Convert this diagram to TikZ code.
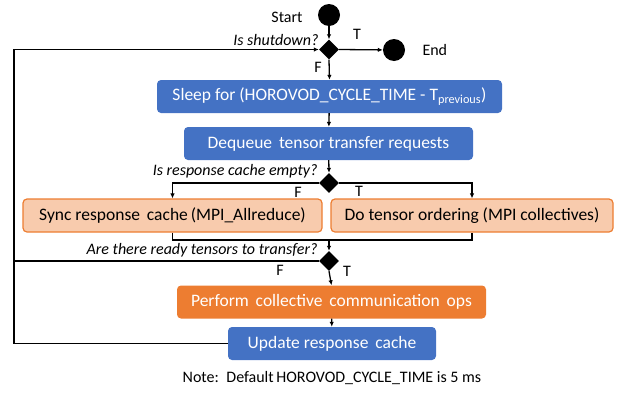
\documentclass[tikz,border=0pt]{standalone}
\usepackage{fontspec}
\setmainfont{Carlito}
\usetikzlibrary{arrows.meta,shapes.geometric}
\definecolor{stepblue}{HTML}{4472C4}
\definecolor{steporange}{HTML}{ED7D31}
\definecolor{steppeach}{HTML}{F8CBAD}
\tikzset{>={Latex[length=5pt,width=4.5pt]}}
\tikzset{flow/.style={line width=1.3pt}}

\begin{document}
\begin{tikzpicture}[x=1pt,y=-1pt]

\tikzstyle{bluebox}=[rectangle,rounded corners=4pt,fill=stepblue,text=white,
                     minimum height=33pt,inner sep=0pt,font=\fontsize{17.5}{20}\selectfont]
\tikzstyle{orangebox}=[bluebox,fill=steporange]
\tikzstyle{peachbox}=[bluebox,fill=steppeach,draw=steporange,line width=1.2pt,text=black]
\tikzstyle{decision}=[diamond,fill=black,minimum size=20pt,inner sep=0pt]
\tikzstyle{terminal}=[circle,fill=black,minimum size=22pt,inner sep=0pt]
\tikzstyle{lab}=[font=\fontsize{16}{18}\selectfont]
\tikzstyle{question}=[lab,font=\fontsize{16}{18}\selectfont\itshape,anchor=east]

  \useasboundingbox (0,0) rectangle (621,394);

  % start / end
  \node[terminal] (start) at (329,15) {};
  \node[lab] (startlab) at (287,17) {Start};
  \node[decision] (dec1) at (329,49.5) {};
  \node[question] (q1) at (322,40) {Is shutdown?};
  \node[terminal] (end) at (394,50) {};
  \node[lab,anchor=west] (endlab) at (419,50) {End};
  \node[lab] (t1) at (357,34) {T};
  \node[lab] (f1) at (318,67) {F};

  % main steps
  \node[bluebox,minimum width=345pt] (sleep) at (329.5,96.5)
       {Sleep for (HOROVOD\_CYCLE\_TIME - T\textsubscript{previous})};
  \node[bluebox,minimum width=289pt] (dequeue) at (328.5,143.5)
       {Dequeue\, tensor transfer requests};

  \node[decision] (dec2) at (329,183) {};
  \node[question] (q2) at (321,171) {Is response cache empty?};
  \node[peachbox,minimum width=299pt] (sync) at (172.5,215.5)
       {Sync response\, cache\,(MPI\_Allreduce)};
  \node[peachbox,minimum width=282pt] (order) at (472,215.5)
       {Do tensor ordering (MPI collectives)};
  \node[lab] (f2) at (298,192) {F};
  \node[lab] (t2) at (359,191) {T};

  \coordinate (join) at (329,240);
  \node[decision] (dec3) at (329,261) {};
  \node[question] (q3) at (321,250) {Are there ready tensors to transfer?};
  \node[lab] (f3) at (280,270) {F};
  \node[lab] (t3) at (347,271) {T};

  \node[orangebox,minimum width=309pt] (perform) at (331.5,302)
       {Perform\, collective\, communication\, ops};
  \node[bluebox,minimum width=208pt] (update) at (332,343.5)
       {Update response\, cache};

  \node[font=\fontsize{16}{18}\selectfont] (note) at (332,378)
       {Note:\, Default\,HOROVOD\_CYCLE\_TIME is 5 ms};

  \coordinate (loopx) at (14,0);

  % connectors
  \draw[flow,->] (start) -- (dec1.north);
  \draw[flow,->] (dec1.east) -- (end);
  \draw[flow,->] (dec1.south) -- (sleep.north);
  \draw[flow,->] (sleep) -- (dequeue);
  \draw[flow,->] (dequeue) -- (dec2.north);
  \draw[flow,->] (dec2.west) -| (sync.north);
  \draw[flow,->] (dec2.east) -| (order.north);
  \draw[flow] (sync.south) |- (join) -| (order.south);
  \draw[flow,->] (join) -- (dec3.north);
  \draw[flow] (dec3.west) -- (dec3.west -| loopx);
  \draw[flow,->] (dec3.south) -- (perform.north);
  \draw[flow,->] (perform) -- (update);
  \draw[flow,->] (update.west) -- (update.west -| loopx) |- (dec1.west);

\end{tikzpicture}
\end{document}
